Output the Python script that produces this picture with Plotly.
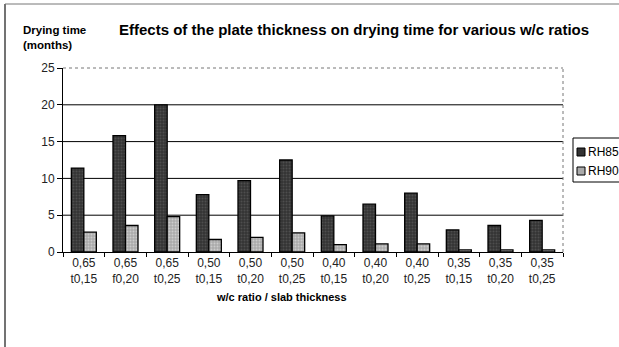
import plotly.graph_objects as go

# Categories: w/c ratio and slab thickness (m)
wc_ratio = ["0,65", "0,65", "0,65", "0,50", "0,50", "0,50",
            "0,40", "0,40", "0,40", "0,35", "0,35", "0,35"]
thickness = ["t0,15", "f0,20", "t0,25", "t0,15", "t0,20", "t0,25",
             "t0,15", "t0,20", "t0,25", "t0,15", "t0,20", "t0,25"]
categories = [f"{w}<br>{t}" for w, t in zip(wc_ratio, thickness)]

# Drying time in months
rh85 = [11.4, 15.8, 20.0, 7.8, 9.7, 12.5, 4.9, 6.5, 8.0, 3.0, 3.6, 4.3]
rh90 = [2.7, 3.6, 4.8, 1.7, 2.0, 2.6, 1.0, 1.1, 1.1, 0.3, 0.3, 0.3]
series_names = ["RH85", "RH90"]

y_ticks = [0, 5, 10, 15, 20, 25]

W, H = 619, 347
L, R, T, B = 63, 56, 68, 95
pw, ph = W - L - R, H - T - B


def px_x(x):
    return (x - L) / pw


def px_y(y):
    return (H - B - y) / ph


dark = dict(color="#333333", line=dict(color="black", width=1.3),
            pattern=dict(shape=".", fgcolor="#6a6a6a", bgcolor="#333333",
                         size=3, solidity=0.35))
light = dict(color="#bdbdbd", line=dict(color="black", width=1.3),
             pattern=dict(shape=".", fgcolor="#eeeeee", bgcolor="#aaaaaa",
                          size=3, solidity=0.35))

fig = go.Figure()
fig.add_trace(go.Bar(x=categories, y=rh85, name=series_names[0], marker=dark))
fig.add_trace(go.Bar(x=categories, y=rh90, name=series_names[1], marker=light))

shapes = []
# horizontal gridlines
for v in y_ticks[1:-1]:
    shapes.append(dict(type="line", xref="paper", yref="y", x0=0, x1=1, y0=v, y1=v,
                       line=dict(color="black", width=1), layer="below"))
# dotted frame on top and right of plot area
shapes.append(dict(type="line", xref="paper", yref="paper", x0=0, x1=1, y0=1, y1=1,
                   line=dict(color="#777777", width=1, dash="dot")))
shapes.append(dict(type="line", xref="paper", yref="paper", x0=1, x1=1, y0=0, y1=1,
                   line=dict(color="#777777", width=1, dash="dot")))
# outer chart border (left and top)
shapes.append(dict(type="line", xref="paper", yref="paper",
                   x0=px_x(5), x1=px_x(5), y0=px_y(347), y1=px_y(4),
                   line=dict(color="#444444", width=1.5)))
shapes.append(dict(type="line", xref="paper", yref="paper",
                   x0=px_x(5), x1=px_x(619), y0=px_y(4), y1=px_y(4),
                   line=dict(color="#777777", width=1)))

# legend box and swatches
shapes.append(dict(type="rect", xref="paper", yref="paper",
                   x0=px_x(573), x1=px_x(640), y0=px_y(182), y1=px_y(138),
                   line=dict(color="black", width=1), fillcolor="white"))
swatch_fill = ["#333333", "#aaaaaa"]
legend_y = [152, 171]
annotations = []
for name, fill, yy in zip(series_names, swatch_fill, legend_y):
    shapes.append(dict(type="rect", xref="paper", yref="paper",
                       x0=px_x(577), x1=px_x(585), y0=px_y(yy + 4), y1=px_y(yy - 4),
                       line=dict(color="black", width=1), fillcolor=fill))
    annotations.append(dict(text=name, xref="paper", yref="paper",
                            x=px_x(586), y=px_y(yy), xanchor="left", yanchor="middle",
                            showarrow=False,
                            font=dict(family="Liberation Sans", size=12, color="black")))

annotations += [
    dict(text="<b>Effects of the plate thickness on drying time for various w/c ratios</b>",
         xref="paper", yref="paper", x=px_x(117), y=px_y(30), xanchor="left",
         yanchor="middle", showarrow=False,
         font=dict(family="Liberation Sans", size=15, color="black")),
    dict(text="<b>Drying time<br>(months)</b>", xref="paper", yref="paper",
         x=px_x(21), y=px_y(37), xanchor="left", yanchor="middle", align="left",
         showarrow=False,
         font=dict(family="Liberation Sans", size=11.5, color="black")),
    dict(text="<b>w/c ratio / slab thickness</b>", xref="paper", yref="paper",
         x=px_x(281), y=px_y(297), xanchor="center", yanchor="middle",
         showarrow=False,
         font=dict(family="Liberation Sans", size=11, color="black")),
]

fig.update_layout(
    width=W, height=H,
    margin=dict(l=L, r=R, t=T, b=B, pad=0),
    paper_bgcolor="white", plot_bgcolor="white",
    showlegend=False,
    barmode="group", bargap=0.4, bargroupgap=0,
    shapes=shapes, annotations=annotations,
    font=dict(family="Liberation Sans", size=12, color="#222222"),
)
fig.update_xaxes(showline=True, linecolor="black", linewidth=1,
                 ticks="outside", tickson="boundaries", ticklen=4,
                 tickcolor="black", showgrid=False,
                 tickfont=dict(size=12, color="#222222"))
fig.update_yaxes(range=[0, 25], tickvals=y_ticks, showgrid=False,
                 showline=True, linecolor="black", linewidth=1,
                 ticks="outside", ticklen=5, tickcolor="black",
                 zeroline=False, tickfont=dict(size=12, color="#222222"))

fig.write_html("out.html")
